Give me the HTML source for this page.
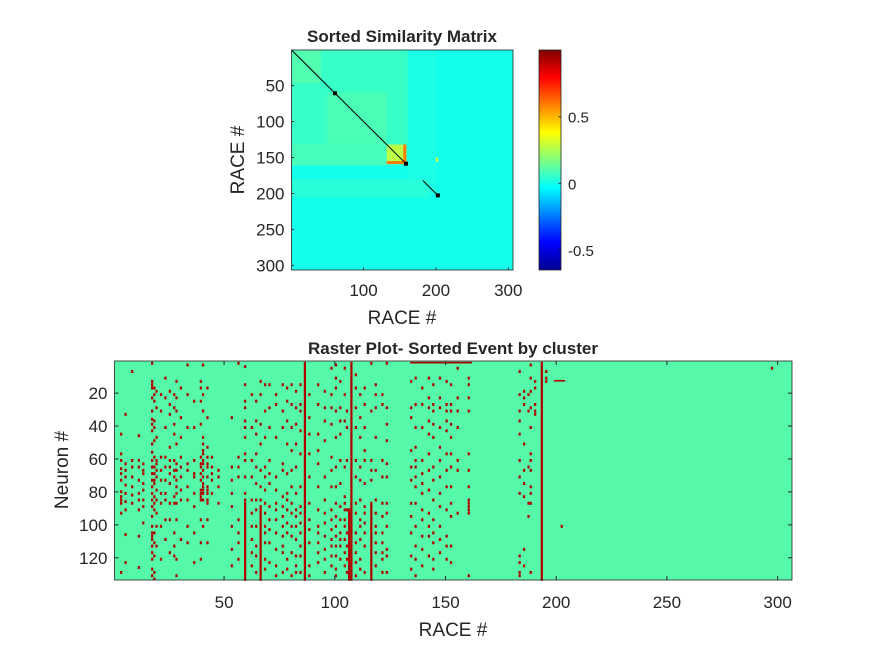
<!DOCTYPE html>
<html><head><meta charset="utf-8">
<style>
body{margin:0;background:#fff;}
svg text{font-family:"Liberation Sans",Arial,sans-serif;fill:#262626;}
</style></head>
<body>
<svg id="fig" width="875" height="656" viewBox="0 0 875 656" xmlns="http://www.w3.org/2000/svg">
<defs>
<linearGradient id="jet" x1="0" y1="1" x2="0" y2="0">
<stop offset="0" stop-color="#00008f"/><stop offset="0.125" stop-color="#0000ff"/>
<stop offset="0.375" stop-color="#00ffff"/><stop offset="0.625" stop-color="#ffff00"/>
<stop offset="0.875" stop-color="#ff0000"/><stop offset="1" stop-color="#800000"/>
</linearGradient>
</defs>
<g id="sim"></g>
<g id="raster"></g>
</svg>
<script>
// ---- Similarity matrix data ----
const simN = 306;
const simBaseValue = 0;
// blocks: [row0,row1,col0,col1,value]
const simBlocks = [
 [1,160,1,160,0.06],
 [1,200,161,200,0.01],
 [180,205,1,190,0.03],
 [1,45,1,40,0.1],
 [60,130,50,130,0.09],
 [132,160,1,130,0.08],
 [132,158,132,158,0.27],
 [155,158,132,158,0.6],
 [132,158,155,158,0.6],
 [150,155,200,202,0.3]
];
const simDiagSegments = [[1,158],[182,202]];
const simDots = [60,158,202];
const simXTicks = [100,200,300];
const simYTicks = [50,100,150,200,250,300];
const cbarTicks = [-0.5,0,0.5];
const cMin = -0.65, cMax = 1.0;

// ---- Raster data ----
const rasterEvents = 306, rasterNeurons = 133;
const spikeEvents = [3,5,8,11,13,17,18,19,21,23,25,27,28,30,33,36,39,40,42,44,47,53,56,59,62,64,66,68,70,73,76,78,80,82,84,86,88,92,95,98,100,102,104,105,107,109,111,113,116,118,121,123,134,136,139,142,144,147,150,152,155,160,183,185,187,188,190,195,202,297];
const spikeNeurons = [
[56,60,65,68,72,79,82,84,86,128,44,92],
[32,62,66,75,80,85,105,122,70,90],
[6,60,70,81,86,64,76],
[45,64,72,80,84,106,125,60,90],
[62,68,74,78,84,88,66,98],
[1,12,14,16,22,30,35,38,42,50,55,60,64,68,72,76,80,84,88,94,100,104,106,108,112,116,120,126,130],
[16,20,36,40,48,58,64,68,72,74,82,86,104,110,128,132,24,90,118],
[18,28,60,62,66,70,78,84,92,112,46,100],
[20,66,72,80,86,100,120,30,58],
[10,22,58,64,72,80,84,96,40,108],
[18,26,32,60,64,68,74,86,116,52,96],
[20,38,44,60,66,70,82,86,112,118,28,104],
[12,22,30,50,62,72,80,86,96,120,130,66,76],
[16,34,46,58,64,70,78,84,108],
[2,20,66,76,84,100,110,40,62],
[24,40,60,68,80,88,104,70,122],
[12,16,38,58,62,64,68,72,78,80,82,84,110,120,24,96],
[2,20,46,50,54,56,60,62,66,70,74,76,78,80,84,100,30],
[16,34,52,58,62,64,70,76,78,80,84,86,96,110],
[64,68,72,80,58],
[66,70,86,76],
[34,64,72,88,100,114,80,124],
[1,58,64,96,104,120,70,110],
[3,24,28,40,46,56,60,70,80,84,14,36],
[20,40,60,70,92,100,108,124,84,116],
[36,44,64,74,84,90,100,112,118,128,24,56],
[20,38,66,84,12,50,76],
[14,30,46,64,70,78,92,100,104,110,120,126,86],
[14,40,60,68,74,88,96,110,122,28,102],
[26,46,70,78,86,90,104,114,124,130,20,96],
[14,30,62,66,82,88,94,100,112,116,128,40,106],
[24,36,50,68,80,84,90,104,120,126,16,98],
[14,26,54,66,76,86,92,106,116,130,40,100],
[18,28,38,64,80,90,100,108,118,124,128,50,94],
[14,26,30,56,76,88,98,104,112,118,128,42,92],
[],
[20,34,44,56,86,96,110,124,130,70,102],
[14,26,44,62,76,90,100,104,116,122,54,110],
[28,36,48,70,84,98,106,114,120,128,18,92],
[4,20,28,38,58,76,90,96,102,108,112,118,124,66],
[2,10,16,30,46,64,86,94,100,106,112,118,126,130,76],
[12,28,36,44,74,88,96,104,112,120,60,108],
[4,20,36,64,82,86,90,96,100,108,116,124],
[30,40,60,90,104,112,120,128],
[],
[8,16,28,40,60,86,92,104,110,116,122,130,70],
[20,34,46,64,72,84,96,108,120,100,126],
[16,26,40,54,60,74,88,98,112,128,92,104],
[1,60,66,72,30],
[14,20,28,46,66,84,92,104,116,124,100,110],
[20,26,70,86,94,104,110,116,120,128,60],
[1,28,38,48,62,70,86,100,114,118,128,92],
[12,28,34,54,64,86,94,104,118,126,72],
[10,26,52,60,64,70,76,86,100,112,120,130,40],
[26,40,60,68,74,80,90,96,106,114,124,16],
[10,22,28,36,44,56,66,78,92,106,118,100],
[14,26,30,38,46,64,72,84,96,104,110,120,126],
[10,22,28,40,52,70,80,88,100,108,116,60],
[12,26,36,42,56,66,76,90,106,112,120,30],
[14,26,30,38,56,64,76,86,94,112,122,46],
[4,22,30,40,66,92,60],
[10,14,22,30,56,66,76,84,86,88,90,92,130],
[6,30,36,44,60,70,80,118,122,128,130,20],
[18,22,26,50,66,74,82,114,124],
[20,30,86,94,64],
[2,10,18,28,56,60,66,76,80,86,128,40],
[12,16,26,30,32],
[6,10,12],
[100],
[4]
];
// vertical runs: [event, neuronStart, neuronEnd]
const spikeRuns = [[86,1,133],[107,1,133],[59,86,133],[66,88,133],[116,86,133],[106,90,133],[193,1,133]];
// horizontal runs: [neuron, eventStart, eventEnd]
const spikeRows = [[1,134,161],[12,199,203]];
const rasterXTicks = [50,100,150,200,250,300];
const rasterYTicks = [20,40,60,80,100,120];

const NS = "http://www.w3.org/2000/svg";
function mk(tag, attrs, parent){const e=document.createElementNS(NS,tag);for(const k in attrs)e.setAttribute(k,attrs[k]);parent.appendChild(e);return e;}
function jet(v){let t=(v-cMin)/(cMax-cMin);t=Math.max(0,Math.min(1,t));
 const f=x=>Math.round(255*Math.max(0,Math.min(1,1.5-Math.abs(x))));
 return `rgb(${f(4*t-3)},${f(4*t-2)},${f(4*t-1)})`;}

// ---- similarity plot ----
const S=document.getElementById('sim');
const sL=291.5,sT=50,sW=221.5,sH=220;
const sx=v=>sL+(v-0.5)*sW/simN, sy=v=>sT+(v-0.5)*sH/simN;
const cw=sW/simN, ch=sH/simN;
let bg=mk('rect',{x:sL,y:sT,width:sW,height:sH,fill:jet(simBaseValue)},S);


simBlocks.forEach(b=>{
 const r=mk('rect',{x:sx(b[2]),y:sy(b[0]),width:(b[3]-b[2]+1)*cw,height:(b[1]-b[0]+1)*ch,fill:jet(b[4])},S);
 
 
});
simDiagSegments.forEach(d=>{
 const l=mk('line',{x1:sx(d[0]),y1:sy(d[0]),x2:sx(d[1]+1),y2:sy(d[1]+1),stroke:'#000','stroke-width':1},S);
 
 
});
simDots.forEach(d=>{
 const r=mk('rect',{x:sx(d)-1.5,y:sy(d)-1.5,width:4,height:4,fill:'#000'},S);
 
 
});
let fr=mk('rect',{x:sL,y:sT,width:sW,height:sH,fill:'none',stroke:'#262626','stroke-width':0.8},S);


simXTicks.forEach(t=>{
 mk('line',{x1:sx(t),y1:sT+sH,x2:sx(t),y2:sT+sH-2.5,stroke:'#262626'},S);
 const tx=mk('text',{x:sx(t),y:sT+sH+26,'text-anchor':'middle','font-size':17},S);tx.textContent=t;
 
 
});
simYTicks.forEach(t=>{
 mk('line',{x1:sL,y1:sy(t),x2:sL+2.5,y2:sy(t),stroke:'#262626'},S);
 const tx=mk('text',{x:sL-7,y:sy(t)+6,'text-anchor':'end','font-size':17},S);tx.textContent=t;
 
 
});
// colorbar
const cbL=539,cbW=22;
const cy=v=>sT+sH-(v-cMin)/(cMax-cMin)*sH;
let cb=mk('rect',{x:cbL,y:sT,width:cbW,height:sH,fill:'url(#jet)',stroke:'#262626','stroke-width':0.8},S);


cbarTicks.forEach(t=>{
 mk('line',{x1:cbL+cbW,y1:cy(t),x2:cbL+cbW-2.5,y2:cy(t),stroke:'#262626'},S);
 const tx=mk('text',{x:cbL+cbW+7,y:cy(t)+6,'font-size':15},S);tx.textContent=t;
 
 
});
let t1=mk('text',{x:402,y:42,'text-anchor':'middle','font-size':17,'font-weight':'bold',fill:'#000'},S);t1.textContent='Sorted Similarity Matrix';


let xl=mk('text',{x:402,y:324,'text-anchor':'middle','font-size':19},S);xl.textContent='RACE #';


let yl=mk('text',{x:0,y:0,'text-anchor':'middle','font-size':19,transform:'translate(244,160) rotate(-90)'},S);yl.textContent='RACE #';



// ---- raster plot ----
const R=document.getElementById('raster');
const rL=114.5,rT=361,rW=677.5,rH=219;
const rx=v=>rL+(v-0.5)*rW/rasterEvents, ry=v=>rT+(v-0.5)*rH/rasterNeurons;
const rw=rW/rasterEvents, rh=rH/rasterNeurons;
let rbg=mk('rect',{x:rL,y:rT,width:rW,height:rH,fill:'#55f9a9'},R);


const red='#b00000';
spikeEvents.forEach((e,i)=>{
 spikeNeurons[i].forEach(n=>{
  const r=mk('rect',{x:rx(e),y:ry(n),width:rw,height:rh*1.8,fill:red},R);
  
  
 });
});
spikeRuns.forEach(s=>{
 const r=mk('rect',{x:rx(s[0]),y:ry(s[1]),width:rw,height:(s[2]-s[1]+1)*rh,fill:red},R);
 
 
});
spikeRows.forEach(s=>{
 const r=mk('rect',{x:rx(s[1]),y:ry(s[0]),width:(s[2]-s[1]+1)*rw,height:rh,fill:red},R);
 
 
});
let rf=mk('rect',{x:rL,y:rT,width:rW,height:rH,fill:'none',stroke:'#262626','stroke-width':0.8},R);


rasterXTicks.forEach(t=>{
 mk('line',{x1:rx(t),y1:rT+rH,x2:rx(t),y2:rT+rH-4,stroke:'#262626'},R);
 mk('line',{x1:rx(t),y1:rT,x2:rx(t),y2:rT+4,stroke:'#262626'},R);
 const tx=mk('text',{x:rx(t),y:rT+rH+28,'text-anchor':'middle','font-size':17},R);tx.textContent=t;
 
 
});
rasterYTicks.forEach(t=>{
 mk('line',{x1:rL,y1:ry(t),x2:rL+4,y2:ry(t),stroke:'#262626'},R);
 mk('line',{x1:rL+rW,y1:ry(t),x2:rL+rW-4,y2:ry(t),stroke:'#262626'},R);
 const tx=mk('text',{x:rL-7,y:ry(t)+6,'text-anchor':'end','font-size':17},R);tx.textContent=t;
 
 
});
let t2=mk('text',{x:453,y:354,'text-anchor':'middle','font-size':17,'font-weight':'bold',fill:'#000'},R);t2.textContent='Raster Plot- Sorted Event by cluster';


let xl2=mk('text',{x:453,y:636,'text-anchor':'middle','font-size':19},R);xl2.textContent='RACE #';


let yl2=mk('text',{x:0,y:0,'text-anchor':'middle','font-size':19,transform:'translate(68,470) rotate(-90)'},R);yl2.textContent='Neuron #';


</script>
</body></html>
